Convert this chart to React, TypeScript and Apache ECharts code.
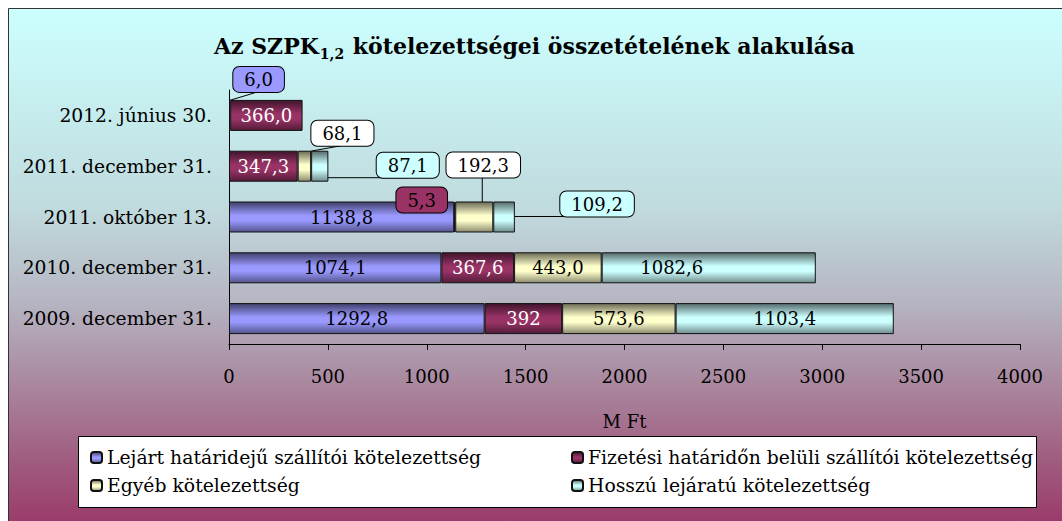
import React, { useEffect, useRef } from "react";
import * as echarts from "echarts";

const categories = [
  "2009. december 31.",
  "2010. december 31.",
  "2011. október 13.",
  "2011. december 31.",
  "2012. június 30.",
];
const seriesNames = [
  "Lejárt határidejű szállítói kötelezettség",
  "Fizetési határidőn belüli szállítói kötelezettség",
  "Egyéb kötelezettség",
  "Hosszú lejáratú kötelezettség",
];
const lejart = [1292.8, 1074.1, 1138.8, null, 6.0];
const fizetesi = [392, 367.6, 5.3, 347.3, 366.0];
const egyeb = [573.6, 443.0, 192.3, 68.1, null];
const hosszu = [1103.4, 1082.6, 109.2, 87.1, null];
const xTicks = { min: 0, max: 4000, interval: 500 };

const colors = ["#9999ff", "#993366", "#ffffcc", "#ccffff"];
const insideTextColors = ["#000", "#fff", "#000", "#000"];
const FONT = "DejaVu Serif";

function shade(hex: string, f: number) {
  const n = parseInt(hex.slice(1), 16);
  const r = Math.round(((n >> 16) & 255) * f);
  const g = Math.round(((n >> 8) & 255) * f);
  const b = Math.round((n & 255) * f);
  return `rgb(${r},${g},${b})`;
}
function barGrad(c: string) {
  return new echarts.graphic.LinearGradient(0, 0, 0, 1, [
    { offset: 0, color: shade(c, 0.42) },
    { offset: 0.45, color: c },
    { offset: 0.62, color: c },
    { offset: 1, color: shade(c, 0.55) },
  ]);
}
const fmt = (v: number) => v.toFixed(1).replace(".", ",");

// callout annotations: series index -> data index -> [dx, dy, background]
const callouts: Record<number, Record<number, [number, number, string]>> = {
  0: { 4: [29, -36, "#9999ff"] },
  1: { 2: [-33, -17, "#993366"] },
  2: { 3: [38, -33, "#ffffff"], 2: [9, -52, "#ffffff"] },
  3: { 3: [88, -1, "#ccffff"], 2: [93, -13, "#ccffff"] },
};
const labelShift: Record<number, Record<number, [number, number]>> = {
  3: { 1: [-37, 0] },
};

function buildData(si: number, vals: (number | null)[]) {
  return vals.map((v, di) => {
    if (v === null) return null;
    const item: any = { value: v };
    const c = callouts[si]?.[di];
    if (si === 1 && di === 0) item.label = { formatter: "392" };
    if (c) {
      item.label = {
        offset: [c[0], c[1]],
        backgroundColor: c[2],
        borderColor: "#000",
        borderWidth: 1,
        borderRadius: 6,
        padding: [4, 11, 3, 11],
        color: "#000",
      };
      item.labelLine = { show: true, lineStyle: { color: "#000", width: 1 } };
    }
    const s = labelShift[si]?.[di];
    if (s) item.label = { ...(item.label || {}), offset: s };
    return item;
  });
}

export default function App() {
  const ref = useRef<HTMLDivElement>(null);
  useEffect(() => {
    if (!ref.current) return;
    const chart = echarts.init(ref.current, null, { renderer: "svg" });
    const all = [lejart, fizetesi, egyeb, hosszu];
    const option: any = {
      animation: false,
      textStyle: { fontFamily: FONT },
      graphic: [
        {
          type: "rect",
          z: -10,
          shape: { x: 8.5, y: 8.5, width: 1070, height: 530 },
          style: {
            fill: new echarts.graphic.LinearGradient(0, 0, 0, 1, [
              { offset: 0, color: "#ccffff" },
              { offset: 0.38, color: "#c0dadd" },
              { offset: 0.55, color: "#b6b6c3" },
              { offset: 0.7, color: "#aa8aa0" },
              { offset: 0.85, color: "#a05d80" },
              { offset: 1, color: "#993366" },
            ]),
            stroke: "#333",
            lineWidth: 1,
          },
        },
        {
          type: "rect",
          z: 1,
          shape: { x: 78.5, y: 436.5, width: 958, height: 71 },
          style: { fill: "#fff", stroke: "#000", lineWidth: 1 },
        },
      ],
      title: {
        left: 209,
        top: 25,
        text: "{a|Az SZPK}{s|1,2}{a| kötelezettségei összetételének alakulása}",
        textStyle: {
          rich: {
            a: { fontFamily: FONT, fontWeight: "bold", fontSize: 22, color: "#000" },
            s: { fontFamily: FONT, fontWeight: "bold", fontSize: 14, color: "#000", padding: [17, 1, 0, 1] },
          },
        },
      },
      grid: { left: 229, right: 42, top: 90, height: 254, containLabel: false },
      xAxis: {
        type: "value",
        ...xTicks,
        name: "M Ft",
        nameLocation: "middle",
        nameGap: 68,
        nameTextStyle: { fontFamily: FONT, fontSize: 18, color: "#000" },
        axisLine: { show: true, lineStyle: { color: "#000" } },
        axisTick: { show: true, length: 6, lineStyle: { color: "#000" } },
        axisLabel: {
          fontFamily: FONT,
          fontSize: 18,
          color: "#000",
          margin: 23,
          formatter: (v: number) => String(v),
        },
        splitLine: { show: false },
      },
      yAxis: {
        type: "category",
        data: categories,
        axisLine: { show: true, lineStyle: { color: "#000" } },
        axisTick: { show: false },
        axisLabel: { fontFamily: FONT, fontSize: 18.7, color: "#000", margin: 17 },
      },
      legend: [
        {
          orient: "vertical",
          left: 85,
          top: 443,
          itemWidth: 11,
          itemHeight: 11,
          itemGap: 9,
          data: [seriesNames[0], seriesNames[2]],
          textStyle: { fontFamily: FONT, fontSize: 18.8, color: "#000" },
        },
        {
          orient: "vertical",
          left: 566,
          top: 443,
          itemWidth: 11,
          itemHeight: 11,
          itemGap: 9,
          data: [seriesNames[1], seriesNames[3]],
          textStyle: { fontFamily: FONT, fontSize: 18.8, color: "#000" },
        },
      ],
      series: all.map((vals, si) => ({
        type: "bar",
        name: seriesNames[si],
        stack: "total",
        barCategoryGap: "39%",
        data: buildData(si, vals),
        itemStyle: { color: barGrad(colors[si]), borderColor: "#111", borderWidth: 1 },
        label: {
          show: true,
          position: "inside",
          fontFamily: FONT,
          fontSize: 18,
          color: insideTextColors[si],
          formatter: (p: any) => fmt(p.value),
        },
        labelLine: { show: false },
      })),
    };
    chart.setOption(option);
    return () => chart.dispose();
  }, []);
  return (
    <div
      ref={ref}
      style={{ position: "absolute", left: 0, top: 0, width: 1062, height: 521 }}
    />
  );
}
